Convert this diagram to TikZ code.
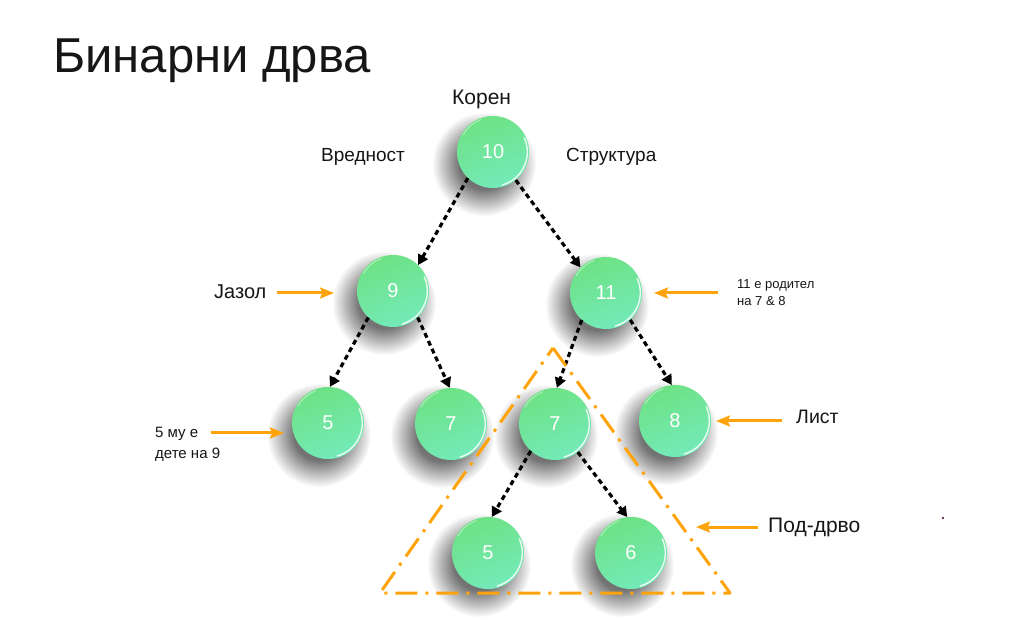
\documentclass[tikz,border=0pt]{standalone}
\usepackage{fontspec}
\setmainfont{Liberation Sans}
\usetikzlibrary{arrows.meta,fadings}
\definecolor{ink}{HTML}{161616}
\definecolor{amber}{HTML}{FFA30A}
\definecolor{leafA}{HTML}{6DE284}
\definecolor{leafB}{HTML}{74EABA}
% soft round fading for the drop shadows
\pgfdeclareradialshading{softdiscshade}{\pgfpointorigin}{color(0bp)=(white); color(12bp)=(white); color(25bp)=(black); color(50bp)=(black)}
\pgfdeclarefading{softdisc}{\pgfuseshading{softdiscshade}}
\begin{document}
\begin{tikzpicture}[x=1pt,y=-1pt,
  treenode/.style={circle, minimum size=72pt, inner sep=0pt,
    shading=axis, left color=leafA, right color=leafB, shading angle=20,
    text=white, font=\fontsize{20}{20}\selectfont,
    path picture={
      \draw[white, line width=1.4pt, opacity=.85]
        (path picture bounding box.center) ++(-75:34.3pt) arc[start angle=-75, end angle=25, radius=34.3pt];
      \draw[white, line width=1pt, opacity=.45]
        (path picture bounding box.center) ++(150:34.5pt) arc[start angle=150, end angle=110, radius=34.5pt];
    }},
  dropshadow/.style={fill=black, opacity=.55, path fading=softdisc},
  link/.style={draw=black, line width=3.2pt, dash pattern=on 5pt off 3.6pt,
    -{Triangle[length=10pt,width=11pt]}},
  pointer/.style={draw=amber, line width=3pt,
    -{Stealth[length=14pt,width=11pt,inset=2.5pt]}},
  lbl/.style={anchor=base west, inner sep=0pt, text=ink},
  subtree/.style={draw=amber, line width=3pt,
    dash pattern=on 22pt off 8pt on 3pt off 8pt, line join=round}]

\useasboundingbox[fill=white] (0,0) rectangle (1023,617);

% title
\node[lbl, font=\fontsize{49}{49}\selectfont] (title) at (53,73) {Бинарни дрва};

% drop shadows under the tree nodes
\foreach \cx/\cy in {493/152, 393/291, 606/293, 328/423, 451/424, 555/424, 675/421, 488/553, 631/553}
  \fill[dropshadow] (\cx-9,\cy+12) circle (52);

% tree nodes
\node[treenode] (n10) at (493,152) {10};
\node[treenode] (n9)  at (393,291) {9};
\node[treenode] (n11) at (606,293) {11};
\node[treenode] (n5a) at (328,423) {5};
\node[treenode] (n7a) at (451,424) {7};
\node[treenode] (n7b) at (555,424) {7};
\node[treenode] (n8)  at (675,421) {8};
\node[treenode] (n5b) at (488,553) {5};
\node[treenode] (n6)  at (631,553) {6};

% parent -> child links
\draw[link] (n10.226) -- (n9.46);
\draw[link] (n10.309) -- (n11.135);
\draw[link] (n9.227)  -- (n5a.87);
\draw[link] (n9.313)  -- (n7a.92);
\draw[link] (n11.228) -- (n7b.87);
\draw[link] (n11.312) -- (n8.95);
\draw[link] (n7b.228) -- (n5b.84);
\draw[link] (n7b.309) -- (n6.96);

% sub-tree outline
\draw[subtree] (553,348) -- (730,593) -- (380,593) -- cycle;

% labels
\node[lbl, font=\fontsize{21}{21}\selectfont] (root) at (452,105) {Корен};
\node[lbl, font=\fontsize{19}{19}\selectfont] (value) at (321,162) {Вредност};
\node[lbl, font=\fontsize{19}{19}\selectfont] (struct) at (566,162) {Структура};
\node[lbl, font=\fontsize{20}{20}\selectfont] (vertex) at (214,299) {Јазол};
\node[lbl, font=\fontsize{19.5}{19.5}\selectfont] (leaf) at (796,424) {Лист};
\node[lbl, font=\fontsize{21}{21}\selectfont] (sub) at (768,532) {Под-дрво};
\node[lbl, font=\fontsize{13}{13}\selectfont] (parent) at (737,289) {11 е родител};
\node[lbl, font=\fontsize{13}{13}\selectfont] (parent2) at (737,306) {на 7 \& 8};
\node[lbl, font=\fontsize{15}{15}\selectfont] (child) at (155,438) {5 му е};
\node[lbl, font=\fontsize{15}{15}\selectfont] (child2) at (155,458) {дете на 9};

% orange pointers
\coordinate (p1s) at (277,293);  \coordinate (p1e) at (334,293);
\coordinate (p2s) at (718,293);  \coordinate (p2e) at (654,293);
\coordinate (p3s) at (211,433);  \coordinate (p3e) at (284,433);
\coordinate (p4s) at (782,421);  \coordinate (p4e) at (716,421);
\coordinate (p5s) at (758,527);  \coordinate (p5e) at (696,527);
\draw[pointer] (p1s) -- (p1e);
\draw[pointer] (p2s) -- (p2e);
\draw[pointer] (p3s) -- (p3e);
\draw[pointer] (p4s) -- (p4e);
\draw[pointer] (p5s) -- (p5e);

% stray mark
\fill[black!60!violet] (943,518) circle (1.1);
\end{tikzpicture}
\end{document}
